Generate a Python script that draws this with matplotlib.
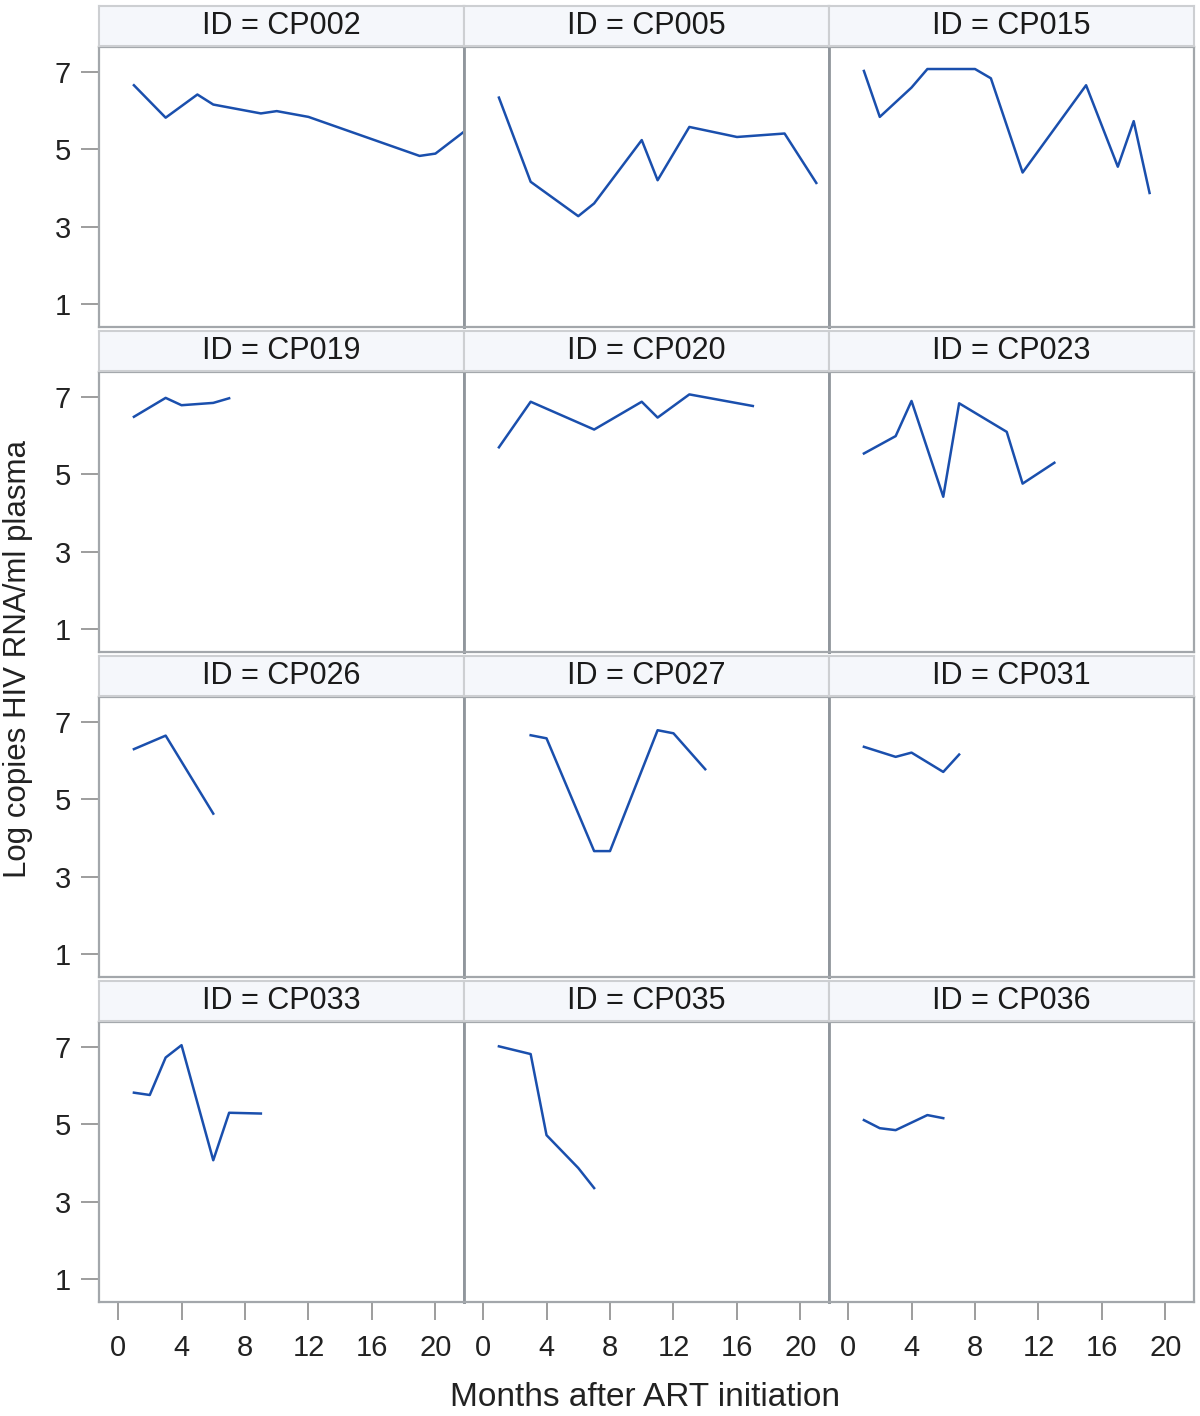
import matplotlib
matplotlib.use("Agg")
import matplotlib.pyplot as plt

plt.rcParams['font.family'] = ['Liberation Sans', 'DejaVu Sans']

# viral load per patient (months after ART start, log copies/ml)
ids = ["CP002", "CP005", "CP015", "CP019", "CP020", "CP023",
       "CP026", "CP027", "CP031", "CP033", "CP035", "CP036"]

cp002_m = [1, 3, 5, 6, 9, 10, 12, 19, 20, 22]
cp002_v = [6.66, 5.82, 6.42, 6.16, 5.93, 5.99, 5.84, 4.83, 4.89, 5.52]
cp005_m = [1, 3, 6, 7, 10, 11, 13, 16, 19, 21]
cp005_v = [6.34, 4.16, 3.27, 3.60, 5.24, 4.20, 5.58, 5.32, 5.41, 4.13]
cp015_m = [1, 2, 4, 5, 8, 9, 11, 15, 17, 18, 19]
cp015_v = [7.03, 5.84, 6.60, 7.08, 7.08, 6.84, 4.40, 6.66, 4.55, 5.73, 3.87]
cp019_m = [1, 3, 4, 6, 7]
cp019_v = [6.49, 6.98, 6.79, 6.85, 6.97]
cp020_m = [1, 3, 7, 10, 11, 13, 17]
cp020_v = [5.70, 6.88, 6.16, 6.88, 6.47, 7.07, 6.77]
cp023_m = [1, 3, 4, 6, 7, 10, 11, 13]
cp023_v = [5.54, 5.99, 6.90, 4.42, 6.84, 6.10, 4.76, 5.30]
cp026_m = [1, 3, 6]
cp026_v = [6.30, 6.65, 4.63]
cp027_m = [3, 4, 7, 8, 11, 12, 14]
cp027_v = [6.66, 6.58, 3.66, 3.66, 6.79, 6.71, 5.78]
cp031_m = [1, 3, 4, 6, 7]
cp031_v = [6.36, 6.10, 6.21, 5.71, 6.16]
cp033_m = [1, 2, 3, 4, 6, 7, 9]
cp033_v = [5.82, 5.76, 6.73, 7.05, 4.07, 5.30, 5.28]
cp035_m = [1, 3, 4, 6, 7]
cp035_v = [7.02, 6.82, 4.72, 3.87, 3.35]
cp036_m = [1, 2, 3, 5, 6]
cp036_v = [5.11, 4.90, 4.85, 5.24, 5.16]

months = [cp002_m, cp005_m, cp015_m, cp019_m, cp020_m, cp023_m,
          cp026_m, cp027_m, cp031_m, cp033_m, cp035_m, cp036_m]
values = [cp002_v, cp005_v, cp015_v, cp019_v, cp020_v, cp023_v,
          cp026_v, cp027_v, cp031_v, cp033_v, cp035_v, cp036_v]

xticks = [0, 4, 8, 12, 16, 20]
yticks = [1, 3, 5, 7]

W, H = 1200, 1416
fig = plt.figure(figsize=(W / 100, H / 100), dpi=100)

line_col = '#1a4fad'
spine_col = '#a3a7ab'
x0, pw = 99, 365
ph, hh, pitch = 280, 40, 325
top0 = 47

for k, pid in enumerate(ids):
    r, c = divmod(k, 3)
    left = x0 + c * pw
    top = top0 + r * pitch
    ax = fig.add_axes([left / W, 1 - (top + ph) / H, pw / W, ph / H])
    ax.plot(months[k], values[k], color=line_col, lw=1.8)
    ax.set_xlim(-1.2, 21.8)
    ax.set_ylim(0.4, 7.65)
    ax.set_xticks(xticks)
    ax.set_yticks(yticks)
    for s in ax.spines.values():
        s.set_color(spine_col)
        s.set_linewidth(1.6)
    # darker divider between columns
    if c > 0:
        ax.spines['left'].set_color('#90969c')
        ax.spines['left'].set_linewidth(2.0)
    if c < 2:
        ax.spines['right'].set_color('#90969c')
        ax.spines['right'].set_linewidth(2.0)
    ax.tick_params(colors='#8c8c8c', width=1.2, length=13, labelsize=21,
                   labelcolor='#222222')
    ax.tick_params(axis='x', pad=10)
    ax.tick_params(axis='y', pad=7)
    if c != 0:
        ax.tick_params(axis='y', left=False, labelleft=False)
    if r != 3:
        ax.tick_params(axis='x', bottom=False, labelbottom=False)

    # header strip
    hx = fig.add_axes([left / W, 1 - (top - 1) / H, pw / W, hh / H])
    hx.set_facecolor('#f5f7fb')
    hx.set_xticks([])
    hx.set_yticks([])
    for s in hx.spines.values():
        s.set_color('#cdcfd2')
        s.set_linewidth(1.5)
    hx.text(0.5, 0.5, "ID = " + pid, ha='center', va='center',
            fontsize=22, color='#1a1a1a', transform=hx.transAxes)

fig.text(18 / W, 1 - 659 / H, "Log copies HIV RNA/ml plasma", rotation=90,
         ha='center', va='center', fontsize=22.5, color='#222222')
fig.text(645 / W, 1 - 1398 / H, "Months after ART initiation",
         ha='center', va='center', fontsize=24, color='#222222')

fig.savefig("out.png", dpi=100)
